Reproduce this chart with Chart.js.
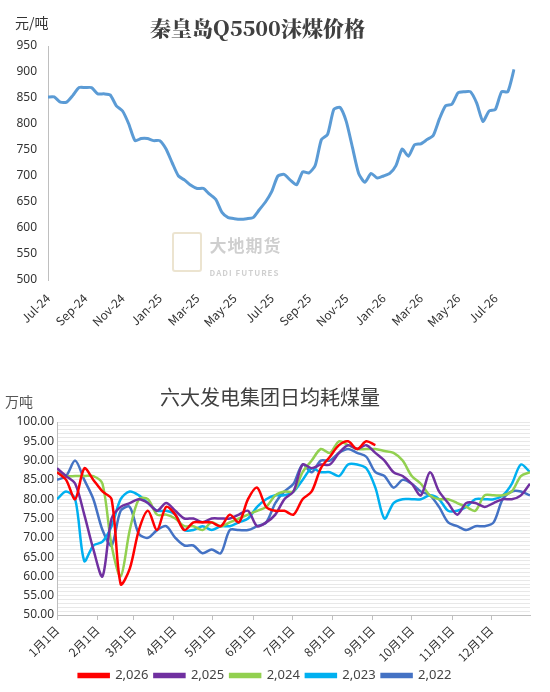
<!DOCTYPE html>
<html>
<head>
<meta charset="utf-8">
<script src="https://cdn.jsdelivr.net/npm/chart.js@4.4.1/dist/chart.umd.min.js"></script>
<style>
  body { margin: 0; background: #fff; font-family: "Noto Sans CJK SC", sans-serif; }
  .box { position: absolute; left: 0; width: 550px; }
  .txt { position: absolute; white-space: nowrap; }
</style>
</head>
<body>
<div class="box" style="top:0;height:340px"><canvas id="priceChart" width="550" height="340"></canvas></div>
<div class="box" style="top:380px;height:312px"><canvas id="coalChart" width="550" height="312"></canvas></div>

<div class="txt" style="left:15px;top:12px;font-size:14px;color:#333">元/吨</div>
<div class="txt" style="left:150px;top:12px;font-size:21px;font-weight:900;color:#404040;font-family:'Noto Serif CJK SC','Noto Sans CJK SC',serif">秦皇岛Q5500沫煤价格</div>
<div class="txt" style="left:172px;top:232px;opacity:0.35">
  <span style="display:inline-block;width:26px;height:36px;border:2px solid #c9b27a;border-radius:3px;vertical-align:top"></span>
  <span style="display:inline-block;vertical-align:top;margin-left:4px;color:#777">
    <span style="font-size:17px;font-weight:bold;letter-spacing:1px">大地期货</span><br>
    <span style="font-size:8px;font-weight:bold;letter-spacing:1px">DADI FUTURES</span>
  </span>
</div>
<div class="txt" style="left:5px;top:391px;font-size:14px;color:#555">万吨</div>
<div class="txt" style="left:160px;top:382px;font-size:20px;color:#404040">六大发电集团日均耗煤量</div>

<script>
// 秦皇岛 Q5500 price, about three readings per month
const priceMonths = ["Jul-24","Aug-24","Sep-24","Oct-24","Nov-24","Dec-24","Jan-25","Feb-25","Mar-25","Apr-25","May-25","Jun-25",
  "Jul-25","Aug-25","Sep-25","Oct-25","Nov-25","Dec-25","Jan-26","Feb-26","Mar-26","Apr-26","May-26","Jun-26","Jul-26","Aug-26"];
const priceValues = [
  852, 852, 842,  842, 855, 870,  870, 870, 858,  858, 856, 835,
  825, 800, 768,  772, 772, 768,  768, 752, 725,  700, 692, 682,
  676, 676, 665,  655, 630, 620,  618, 617, 618,  620, 635, 650,
  670, 700, 703,  692, 683, 708,  706, 720, 770,  780, 828, 832,
  805, 755, 705,  688, 705, 696,  700, 705, 720,  752, 738, 760,
  762, 770, 778,  810, 835, 838,  860, 862, 862,  840, 805, 825,
  828, 862, 862,  905
];
const priceLabels = priceValues.map((v, i) => i % 6 === 0 ? priceMonths[i / 3] : "");

// daily coal burn, weekly readings (day of year)
const days = [0,7,14,21,28,35,42,49,56,63,70,77,84,91,98,105,112,119,126,133,140,147,154,161,168,175,182,189,196,203,210,217,224,231,238,245,252,259,266,273,280,287,294,301,308,315,322,329,336,343,350,357,364];
const y2026 = [87,85,80,88,85,82,80,58,62,72,77,72,78,76,72,74,74,74,73,76,74,80,83,78,77,77,76,80,82,88,91,94,95,93,95,94];
const y2025 = [88,86,84,76,67,60,75,78,79,80,79,77,79,77,75,75,74,75,75,75,76,77,73,74,76,80,82,89,88,89,89,92,94,93,94,92,90,87,86,84,81,87,82,79,76,79,79,78,79,80,80,81,84];
const y2024 = [87,86,86,86,86,84,68,60,72,80,80,76,76,75,73,73,72,74,73,74,75,76,77,78,81,82,82,87,90,93,92,95,94,93,93,93,92.5,92,90,86,84,81,80,80,79,78,77,81,81,81,82,86,87];
const y2023 = [80,82,80,64,68,69,73,80,82,81,79,77,77,76,72,72,73,72,73,73,74,75,78,80,81,81,82,85,88,87,87,86,89,89,88,83,75,79,80,80,80,81,80,77,77,78,80,80,80,81,84,89,87];
const y2022 = [85,86,90,85,80,72,68,77,78,71,70,72,73,70,68,68,66,67,66,72,72,72,73,74,79,82,84,89,87,90,90,92,93,92,91,87,86,83,85,84,82,81,78,74,73,72,73,73,74,80,82,82,81];
const monthStarts = [0,31,59,90,120,151,181,212,243,273,304,334];
const monthLabels = ["1月1日","2月1日","3月1日","4月1日","5月1日","6月1日","7月1日","8月1日","9月1日","10月1日","11月1日","12月1日"];

const tickFont = { family: "Noto Sans CJK SC", size: 12 };

new Chart(document.getElementById("priceChart"), {
  type: "line",
  data: {
    labels: priceLabels,
    datasets: [{ data: priceValues, borderColor: "#5b9bd5", borderWidth: 3, pointRadius: 0, tension: 0.2 }]
  },
  options: {
    responsive: false,
    animation: false,
    layout: { padding: { top: 46, right: 36 } },
    plugins: { legend: { display: false }, tooltip: { enabled: false } },
    scales: {
      x: {
        grid: { display: false },
        border: { display: false },
        ticks: { autoSkip: false, maxRotation: 45, minRotation: 45, color: "#333", font: tickFont },
        afterFit: s => { s.height = 60; }
      },
      y: {
        min: 500, max: 950,
        grid: { display: false },
        border: { color: "#bfbfbf", width: 1 },
        ticks: { stepSize: 50, color: "#333", font: { family: "Noto Sans", size: 12 } },
        afterFit: s => { s.width = 48; }
      }
    }
  }
});

const series = [
  ["2,026", y2026, "#ff0000"],
  ["2,025", y2025, "#7030a0"],
  ["2,024", y2024, "#92d050"],
  ["2,023", y2023, "#00b0f0"],
  ["2,022", y2022, "#4472c4"]
];

new Chart(document.getElementById("coalChart"), {
  type: "line",
  data: {
    datasets: series.map(([name, vals, color]) => ({
      label: name,
      data: vals.map((v, i) => ({ x: days[i], y: v })),
      borderColor: color, backgroundColor: color,
      borderWidth: 2.5, pointRadius: 0, tension: 0.3
    }))
  },
  options: {
    responsive: false,
    animation: false,
    layout: { padding: { top: 42, right: 20 } },
    plugins: {
      tooltip: { enabled: false },
      legend: {
        position: "bottom",
        labels: { boxWidth: 30, boxHeight: 3, padding: 6, color: "#444", font: { family: "Noto Sans", size: 13 } }
      }
    },
    scales: {
      x: {
        type: "linear", min: 0, max: 364,
        afterBuildTicks: s => { s.ticks = monthStarts.map(v => ({ value: v })); },
        ticks: {
          maxRotation: 45, minRotation: 45, color: "#333", font: tickFont,
          callback: v => monthLabels[monthStarts.indexOf(v)]
        },
        grid: { drawOnChartArea: false, tickLength: 5, color: "#bfbfbf" },
        border: { color: "#bfbfbf" },
        afterFit: s => { s.height = 48; }
      },
      y: {
        min: 50, max: 100,
        ticks: {
          stepSize: 1, autoSkip: false, color: "#333", font: { family: "Noto Sans", size: 12 },
          callback: v => v % 5 === 0 ? v.toFixed(2) : ""
        },
        grid: { color: "#e8e8e8", drawTicks: false },
        border: { color: "#bfbfbf" },
        afterFit: s => { s.width = 57; }
      }
    }
  }
});
</script>
</body>
</html>
